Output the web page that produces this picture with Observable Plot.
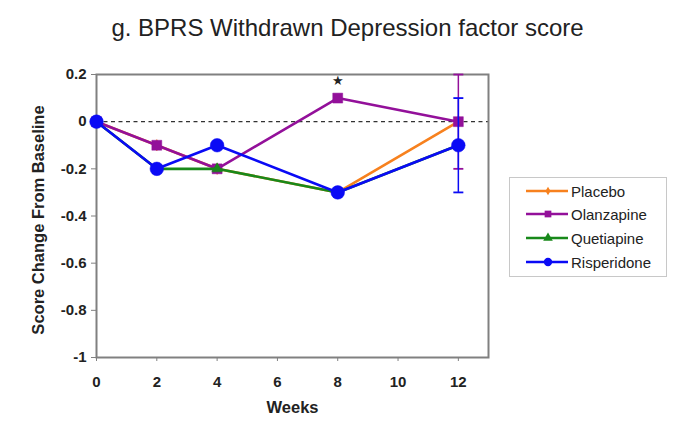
<!DOCTYPE html>
<html><head><meta charset="utf-8">
<script src="https://cdn.jsdelivr.net/npm/d3@7"></script>
<script src="https://cdn.jsdelivr.net/npm/@observablehq/plot@0.6"></script>
<style>
body{margin:0;background:#fff;font-family:"Liberation Sans",Arial,sans-serif;}
#wrap{position:relative;width:675px;height:421px;overflow:hidden;background:#fff;}
#title{height:50px;box-sizing:border-box;padding-top:16px;padding-left:20px;line-height:24px;font-size:24px;text-align:center;color:#222;white-space:nowrap;}
#chart svg{display:block;}
#legend{position:absolute;left:509px;top:177px;width:158px;height:100px;box-sizing:border-box;border:1px solid #c8c8c8;background:#fff;}
.lrow{position:absolute;left:0;height:20px;display:flex;align-items:center;}
.lrow svg{display:block;}
.lrow span{font-size:15px;color:#222;margin-left:1px;}
</style></head><body>
<div id="wrap"><div id="title">g. BPRS Withdrawn Depression factor score</div><div id="chart"></div><div id="legend"></div></div>
<script>
// ---- data ----
const weeks = [0, 2, 4, 8, 12];
const seriesNames = ["Placebo", "Olanzapine", "Quetiapine", "Risperidone"];
const placebo     = [0, -0.1, -0.2, -0.3, 0];
const olanzapine  = [0, -0.1, -0.2,  0.1, 0];
const quetiapine  = [0, -0.2, -0.2, -0.3, -0.1];
const risperidone = [0, -0.2, -0.1, -0.3, -0.1];
const errSeries = ["Olanzapine", "Risperidone"];
const errWeek   = [12, 12];
const errLow    = [-0.2, -0.3];
const errHigh   = [0.2, 0.1];
const starWeek = [8];
const starValue = [0.1];
const yTicks = [0.2, 0, -0.2, -0.4, -0.6, -0.8, -1];
const xTicks = [0, 2, 4, 6, 8, 10, 12];

// ---- styles ----
const colors  = ["#f7811e", "#93109a", "#18891a", "#0a0af5"];
const symbols = ["diamond", "square", "triangle", "circle"];
const radii   = [3.5, 5.6, 3.9, 6.8];
const values  = [placebo, olanzapine, quetiapine, risperidone];

const rows = [];
seriesNames.forEach((s, i) => weeks.forEach((w, j) => rows.push({series: s, week: w, value: values[i][j]})));
const errs = errSeries.map((s, i) => ({series: s, week: errWeek[i], lo: errLow[i], hi: errHigh[i], color: colors[seriesNames.indexOf(s)]}));
const caps = errs.flatMap(e => [{week: e.week, v: e.lo, color: e.color}, {week: e.week, v: e.hi, color: e.color}]);
const capSymbol = {draw(ctx, size) { const w = 5; ctx.moveTo(-w, 0); ctx.lineTo(w, 0); }};

const marks = [
  Plot.ruleY([0], {stroke: "#333", strokeWidth: 1.4, strokeDasharray: "4,3.5"}),
  Plot.frame({stroke: "#808080", strokeWidth: 2}),
  Plot.axisY(yTicks, {tickSize: 5, tickPadding: 5, stroke: "#808080", tickFormat: d => String(+d.toFixed(1)), fontSize: 15, fontWeight: "bold", fill: "#222", label: null}),
  Plot.axisX(xTicks, {tickSize: 4, tickPadding: 15, stroke: "#808080", tickFormat: d => String(d), fontSize: 15, fontWeight: "bold", fill: "#222", label: null}),
  Plot.text(["Weeks"], {frameAnchor: "bottom", dy: 55, fontSize: 16.5, fontWeight: "bold", fill: "#222"}),
  Plot.text(["Score Change From Baseline"], {frameAnchor: "left", textAnchor: "middle", dx: -58, dy: 4, rotate: -90, fontSize: 16.5, fontWeight: "bold", fill: "#222"}),
];
seriesNames.forEach((s, i) => {
  const d = rows.filter(r => r.series === s);
  marks.push(Plot.line(d, {x: "week", y: "value", stroke: colors[i], strokeWidth: 2.6}));
  const e = errs.filter(r => r.series === s);
  if (e.length) {
    marks.push(Plot.ruleX(e, {x: "week", y1: "lo", y2: "hi", stroke: "color", strokeWidth: 1.5}));
    marks.push(Plot.dot(caps.filter(c => c.color === colors[i]), {x: "week", y: "v", symbol: capSymbol, stroke: "color", strokeWidth: 1.8, fill: "none"}));
  }
  marks.push(Plot.dot(d, {x: "week", y: "value", symbol: symbols[i], r: radii[i], fill: colors[i], stroke: colors[i], strokeWidth: 0.5}));
});
marks.push(Plot.text(starWeek.map((w, i) => ({w, v: starValue[i]})), {x: "w", y: "v", text: () => "★", dy: -17, fontSize: 13, fill: "#222"}));

const chart = Plot.plot({
  width: 675, height: 371,
  marginTop: 24, marginBottom: 64, marginLeft: 96, marginRight: 187,
  x: {domain: [0, 13]},
  y: {domain: [-1, 0.2]},
  style: {fontFamily: "'Liberation Sans', Arial, sans-serif", background: "#fff", color: "#222", overflow: "visible"},
  marks
});
document.getElementById("chart").append(chart);

// ---- legend ----
const leg = document.getElementById("legend");
const legSizes = [22, 45, 40, 55];
const rowY = [191, 214, 238, 262];
seriesNames.forEach((s, i) => {
  const row = document.createElement("div");
  row.className = "lrow";
  row.style.top = (rowY[i] - 177 - 1 - 10) + "px";
  const sym = {diamond: d3.symbolDiamond, square: d3.symbolSquare, triangle: d3.symbolTriangle, circle: d3.symbolCircle}[symbols[i]];
  const path = d3.symbol(sym, legSizes[i])();
  row.innerHTML = `<svg width="60" height="20"><line x1="16" x2="58" y1="10" y2="10" stroke="${colors[i]}" stroke-width="2.6"/><path d="${path}" transform="translate(38,10)" fill="${colors[i]}"/></svg><span>${s}</span>`;
  leg.append(row);
});
</script>
</body></html>
